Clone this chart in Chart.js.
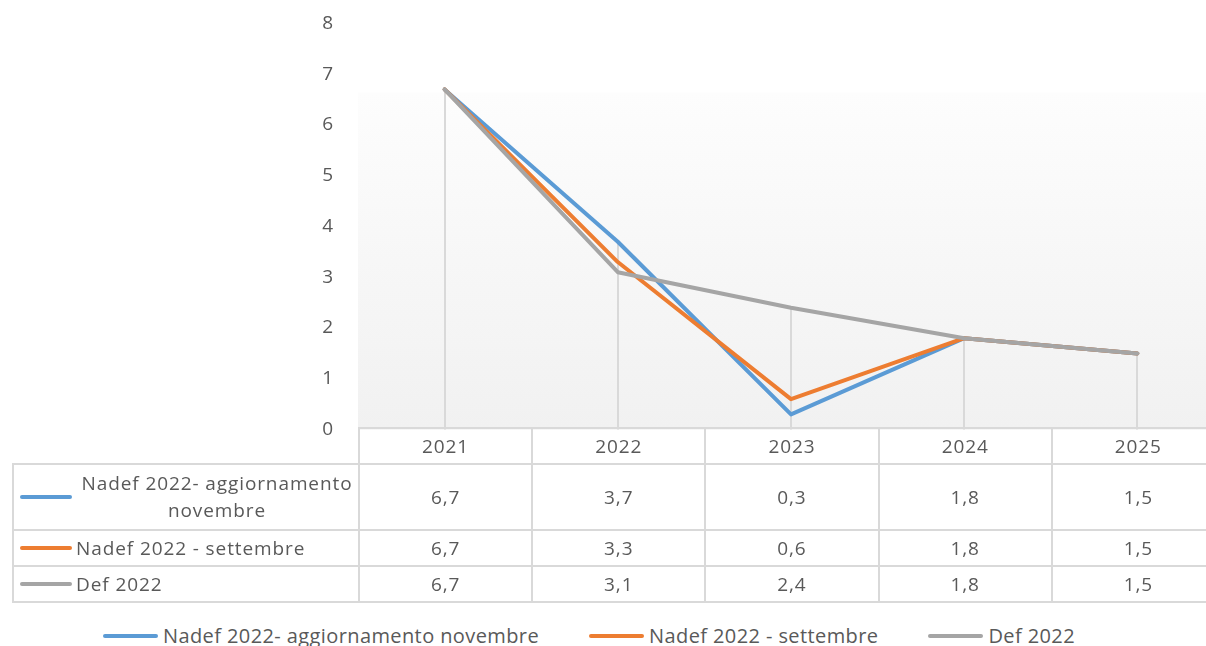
<!DOCTYPE html>
<html>
<head>
<meta charset="utf-8">
<script src="https://cdn.jsdelivr.net/npm/chart.js@4/dist/chart.umd.min.js"></script>
<style>
  html, body { margin: 0; padding: 0; background: #fff; overflow: hidden; width: 1206px; height: 646px; }
  #wrap { position: relative; width: 1206px; height: 646px; overflow: hidden; font-family: "Open Sans", sans-serif; color: #595959; }
  #chartBox { position: absolute; left: 0; top: -5px; width: 1224px; height: 463px; }
  #dataTable { position: absolute; left: 12px; top: 427px; width: 1212px; border-collapse: collapse; table-layout: fixed; font-size: 19px; letter-spacing: 0.9px; }
  #dataTable td { border: 2px solid #d9d9d9; text-align: center; padding: 0; vertical-align: middle; }
  #dataTable td.corner { border-top: none; border-left: none; }
  #dataTable td.name { text-align: left; padding-left: 6px; }
  .key { display: flex; align-items: center; }
  .swatch { flex: none; width: 52px; height: 4px; border-radius: 2px; margin-right: 4px; }
  .keytext { flex: 1; line-height: 27px; }
  #legend { position: absolute; left: 103px; top: 622px; display: flex; align-items: center; font-size: 20px; letter-spacing: 0.4px; white-space: nowrap; }
  #legend .item { display: flex; align-items: center; margin-right: 50px; }
  #legend .swatch { width: 55px; margin-right: 5px; }
</style>
</head>
<body>
<div id="wrap">
  <div id="chartBox"><canvas id="lineChart" width="1224" height="463"></canvas></div>
  <table id="dataTable"></table>
  <div id="legend"></div>
</div>
<script>
  var years = ['2021', '2022', '2023', '2024', '2025'];
  var nadefNov = [6.7, 3.7, 0.3, 1.8, 1.5];
  var nadefSet = [6.7, 3.3, 0.6, 1.8, 1.5];
  var def2022 = [6.7, 3.1, 2.4, 1.8, 1.5];
  var seriesNames = ['Nadef 2022- aggiornamento novembre', 'Nadef 2022 - settembre', 'Def 2022'];
  var seriesColors = ['#5b9bd5', '#ed7d31', '#a5a5a5'];
  var allSeries = [nadefNov, nadefSet, def2022];

  // gradient behind the plot + drop lines from the highest point to the axis
  var plotBackground = {
    id: 'plotBackground',
    beforeDatasetsDraw: function(chart) {
      var ctx = chart.ctx, area = chart.chartArea, x = chart.scales.x, y = chart.scales.y;
      var all = [].concat(nadefNov, nadefSet, def2022);
      var top = y.getPixelForValue(Math.max.apply(null, all)) + 3;
      var grad = ctx.createLinearGradient(0, top, 0, area.bottom);
      grad.addColorStop(0, '#fdfdfd');
      grad.addColorStop(1, '#f1f1f1');
      ctx.save();
      ctx.fillStyle = grad;
      ctx.fillRect(area.left, top, area.right - area.left, area.bottom - top);
      ctx.strokeStyle = '#d9d9d9';
      ctx.lineWidth = 2;
      years.forEach(function(yr, i) {
        var hi = Math.max(nadefNov[i], nadefSet[i], def2022[i]);
        var px = Math.round(x.getPixelForValue(i));
        ctx.beginPath();
        ctx.moveTo(px, y.getPixelForValue(hi));
        ctx.lineTo(px, area.bottom);
        ctx.stroke();
      });
      ctx.restore();
    }
  };

  new Chart(document.getElementById('lineChart'), {
    type: 'line',
    data: {
      labels: years,
      datasets: allSeries.map(function(vals, i) {
        return {
          label: seriesNames[i],
          data: vals,
          borderColor: seriesColors[i],
          backgroundColor: seriesColors[i],
          borderWidth: 4,
          borderCapStyle: 'round',
          borderJoinStyle: 'round',
          pointRadius: 0,
          tension: 0,
          order: 2 - i
        };
      })
    },
    options: {
      responsive: false,
      animation: false,
      devicePixelRatio: 1,
      layout: { padding: { top: 5, bottom: 0, left: 0, right: 0 } },
      plugins: { legend: { display: false }, tooltip: { enabled: false } },
      scales: {
        x: { display: false, offset: true },
        y: {
          min: 0,
          max: 8,
          ticks: { stepSize: 1, padding: 17, color: '#595959', font: { family: 'Open Sans', size: 19 } },
          grid: { display: false },
          border: { display: false },
          afterFit: function(scale) { scale.width = 358; }
        }
      }
    },
    plugins: [plotBackground]
  });

  // data table under the plot
  var table = document.getElementById('dataTable');
  var colW = 173.2;
  var html = '<colgroup><col style="width:346px">';
  years.forEach(function() { html += '<col style="width:' + colW + 'px">'; });
  html += '</colgroup><tr style="height:36px"><td class="corner"></td>';
  years.forEach(function(yr) { html += '<td>' + yr + '</td>'; });
  html += '</tr>';
  allSeries.forEach(function(vals, i) {
    var h = i === 0 ? 66 : 36;
    var align = i === 0 ? 'center' : 'left';
    html += '<tr style="height:' + h + 'px"><td class="name"><div class="key">' +
      '<span class="swatch" style="background:' + seriesColors[i] + '"></span>' +
      '<span class="keytext" style="text-align:' + align + '">' + seriesNames[i] + '</span></div></td>';
    vals.forEach(function(v) { html += '<td>' + String(v).replace('.', ',') + '</td>'; });
    html += '</tr>';
  });
  table.innerHTML = html;

  // legend at the bottom
  var legend = document.getElementById('legend');
  seriesNames.forEach(function(name, i) {
    var item = document.createElement('div');
    item.className = 'item';
    item.innerHTML = '<span class="swatch" style="background:' + seriesColors[i] + '"></span><span>' + name + '</span>';
    legend.appendChild(item);
  });
</script>
</body>
</html>
